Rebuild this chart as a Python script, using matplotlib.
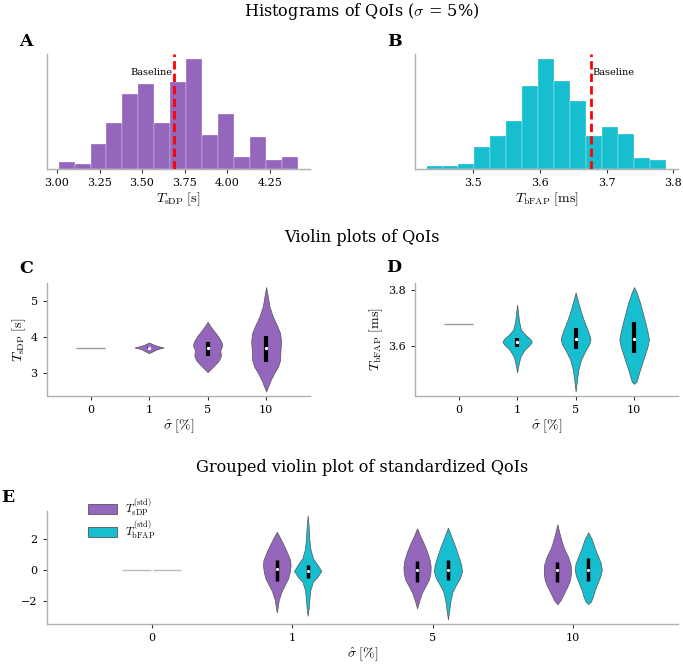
import numpy as np
import matplotlib.pyplot as plt
from matplotlib.patches import Patch

plt.rcParams['font.family'] = 'DejaVu Serif'
plt.rcParams['mathtext.fontset'] = 'cm'
plt.rcParams['font.size'] = 8

PURPLE = '#9467bd'
CYAN = '#17becf'
EDGE = '#555555'

# histogram data (sigma = 5%)
A_edges = [3.010, 3.104, 3.198, 3.291, 3.385, 3.479, 3.573, 3.667, 3.760,
           3.854, 3.948, 4.042, 4.136, 4.229, 4.323, 4.417]
A_counts = [3, 2, 11, 20, 33, 37, 20, 38, 48, 15, 24, 5, 14, 4, 5]
A_baseline = 3.69

B_edges = [3.430, 3.454, 3.477, 3.501, 3.525, 3.549, 3.573, 3.597, 3.621,
           3.645, 3.669, 3.693, 3.717, 3.741, 3.765, 3.789]
B_counts = [1, 1, 2, 10, 15, 22, 38, 50, 40, 31, 15, 19, 16, 5, 4]
B_baseline = 3.677

sigma_labels = ['0', '1', '5', '10']

# violin outlines for sigma = 1, 5, 10 (levels and half widths)
C_y = [
    [3.544, 3.600, 3.656, 3.702, 3.749, 3.795, 3.842],
    [3.015, 3.126, 3.219, 3.340, 3.470, 3.619, 3.758, 3.870, 4.009, 4.149, 4.288, 4.418],
    [2.475, 2.615, 2.801, 2.986, 3.172, 3.358, 3.637, 3.870, 4.102, 4.288, 4.567, 4.846, 5.125, 5.385],
]
C_w = [
    [0.0, 0.068, 0.136, 0.25, 0.136, 0.057, 0.0],
    [0.0, 0.068, 0.125, 0.193, 0.228, 0.216, 0.25, 0.233, 0.182, 0.114, 0.051, 0.0],
    [0.0, 0.034, 0.080, 0.137, 0.205, 0.239, 0.245, 0.256, 0.239, 0.193, 0.114, 0.057, 0.028, 0.0],
]
C_q1 = [3.68, 3.473, 3.293]
C_q3 = [3.72, 3.864, 4.028]
C_med = [3.70, 3.693, 3.693]

D_y = [
    [3.503, 3.536, 3.560, 3.584, 3.603, 3.613, 3.623, 3.639, 3.657, 3.687, 3.718, 3.748],
    [3.433, 3.475, 3.512, 3.548, 3.578, 3.603, 3.621, 3.633, 3.657, 3.693, 3.730, 3.766, 3.793],
    [3.461, 3.469, 3.481, 3.506, 3.536, 3.566, 3.596, 3.623, 3.651, 3.681, 3.718, 3.754, 3.790, 3.812],
]
D_w = [
    [0.0, 0.029, 0.057, 0.126, 0.217, 0.251, 0.228, 0.143, 0.068, 0.034, 0.017, 0.0],
    [0.0, 0.023, 0.046, 0.091, 0.160, 0.228, 0.254, 0.245, 0.205, 0.137, 0.080, 0.034, 0.0],
    [0.0, 0.040, 0.057, 0.091, 0.137, 0.183, 0.228, 0.254, 0.228, 0.194, 0.148, 0.103, 0.046, 0.0],
]
D_q1 = [3.596, 3.588, 3.572]
D_q3 = [3.627, 3.663, 3.687]
D_med = [3.613, 3.624, 3.623]

# standardized QoIs, grouped
E_sdp_y = [
    [-2.750, -2.385, -1.955, -1.417, -0.987, -0.557, -0.127, 0.303, 0.626, 1.163, 1.701, 2.131, 2.432],
    [-2.492, -1.955, -1.525, -1.095, -0.665, -0.234, 0.196, 0.626, 1.163, 1.701, 2.239, 2.669],
    [-2.234, -1.955, -1.525, -1.095, -0.665, -0.234, 0.303, 0.841, 1.379, 1.916, 2.454, 2.927],
]
E_sdp_w = [
    [0.0, 0.007, 0.014, 0.033, 0.057, 0.081, 0.093, 0.0985, 0.095, 0.071, 0.043, 0.019, 0.0],
    [0.0, 0.017, 0.033, 0.057, 0.083, 0.095, 0.097, 0.090, 0.071, 0.047, 0.019, 0.0],
    [0.0, 0.024, 0.047, 0.071, 0.090, 0.097, 0.095, 0.076, 0.047, 0.028, 0.012, 0.0],
]
E_sdp_q1 = [-0.729, -0.772, -0.772]
E_sdp_q3 = [0.626, 0.583, 0.518]
E_sdp_med = [0.02, -0.02, -0.04]

E_bfap_y = [
    [-2.966, -2.492, -1.955, -1.310, -0.772, -0.450, -0.084, 0.303, 0.733, 1.271, 1.916, 2.776, 3.486],
    [-3.202, -2.600, -1.955, -1.417, -0.987, -0.557, -0.127, 0.303, 0.841, 1.486, 2.131, 2.712],
    [-2.213, -2.063, -1.740, -1.310, -0.880, -0.450, -0.019, 0.411, 0.841, 1.379, 1.916, 2.411],
]
E_bfap_w = [
    [0.0, 0.007, 0.012, 0.019, 0.038, 0.071, 0.097, 0.071, 0.038, 0.021, 0.012, 0.007, 0.0],
    [0.0, 0.0095, 0.019, 0.033, 0.057, 0.085, 0.0997, 0.095, 0.076, 0.052, 0.024, 0.0],
    [0.0, 0.019, 0.033, 0.047, 0.066, 0.085, 0.097, 0.090, 0.071, 0.047, 0.028, 0.0],
]
E_bfap_q1 = [-0.514, -0.665, -0.708]
E_bfap_q3 = [0.28, 0.626, 0.776]
E_bfap_med = [-0.084, -0.04, -0.02]


def style(ax, yticks=True):
    for s in ['top', 'right']:
        ax.spines[s].set_visible(False)
    for s in ['left', 'bottom']:
        ax.spines[s].set_color('#b0b0b0')
        ax.spines[s].set_linewidth(1.0)
    ax.tick_params(length=3, width=0.8, color='#333333', labelsize=8)
    if not yticks:
        ax.set_yticks([])


def violin(ax, x, ys, ws, color, q1, q3, med, lw_box=3.0, dot=6):
    ys = np.array(ys)
    ws = np.array(ws)
    ax.fill_betweenx(ys, x - ws, x + ws, facecolor=color, edgecolor=EDGE, lw=0.5, zorder=2)
    ax.vlines(x, q1, q3, color='black', lw=lw_box, zorder=3)
    ax.scatter([x], [med], s=dot, color='white', zorder=4, linewidths=0)


fig = plt.figure(figsize=(6.83, 6.68), dpi=100)

axA = fig.add_axes([0.0684, 0.7475, 0.3855, 0.1717])
axB = fig.add_axes([0.6072, 0.7475, 0.3855, 0.1717])
axC = fig.add_axes([0.0684, 0.4072, 0.3855, 0.1692])
axD = fig.add_axes([0.6072, 0.4072, 0.3855, 0.1692])
axE = fig.add_axes([0.0684, 0.0659, 0.9243, 0.1696])

# A / B histograms
for ax, edges, counts, color, base, xlab, side in [
        (axA, A_edges, A_counts, PURPLE, A_baseline, r'$T_{\mathrm{sDP}}\ [\mathrm{s}]$', 'left'),
        (axB, B_edges, B_counts, CYAN, B_baseline, r'$T_{\mathrm{bFAP}}\ [\mathrm{ms}]$', 'right')]:
    edges = np.array(edges)
    ax.bar(edges[:-1], counts, width=np.diff(edges), align='edge', color=color,
           edgecolor='white', linewidth=0.2)
    ax.axvline(base, color='red', ls='--', lw=2, dashes=(3, 1.5), zorder=3)
    if side == 'left':
        ax.text(base - 0.01, 0.84, 'Baseline', transform=ax.get_xaxis_transform(),
                ha='right', va='center', fontsize=7)
    else:
        ax.text(base + 0.002, 0.84, 'Baseline', transform=ax.get_xaxis_transform(),
                ha='left', va='center', fontsize=7)
    ax.set_xlabel(xlab, fontsize=10, labelpad=2)
    style(ax, yticks=False)

axA.set_xticks([3.0, 3.25, 3.5, 3.75, 4.0, 4.25])
axB.set_xticks([3.5, 3.6, 3.7, 3.8])

# C / D violins
for ax, Y, W, q1, q3, med, color, base, ylab in [
        (axC, C_y, C_w, C_q1, C_q3, C_med, PURPLE, A_baseline, r'$T_{\mathrm{sDP}}\ [\mathrm{s}]$'),
        (axD, D_y, D_w, D_q1, D_q3, D_med, CYAN, B_baseline, r'$T_{\mathrm{bFAP}}\ [\mathrm{ms}]$')]:
    ax.hlines(base, -0.25, 0.25, color='#999999', lw=1)
    for i in range(3):
        violin(ax, i + 1, Y[i], W[i], color, q1[i], q3[i], med[i])
    ax.set_xticks(range(4))
    ax.set_xticklabels(sigma_labels)
    ax.set_xlim(-0.75, 3.75)
    ax.set_xlabel(r'$\hat{\sigma}\ [\%]$', fontsize=10, labelpad=2)
    ax.set_ylabel(ylab, fontsize=10, labelpad=2)
    style(ax)

axC.set_ylim(2.35, 5.5)
axC.set_yticks([3, 4, 5])
axD.set_ylim(3.417, 3.827)
axD.set_yticks([3.6, 3.8])

# E grouped violins
axE.hlines(0, -0.21, -0.01, color='#bbbbbb', lw=1)
axE.hlines(0, 0.01, 0.21, color='#bbbbbb', lw=1)
for i in range(3):
    violin(axE, i + 1 - 0.11, E_sdp_y[i], E_sdp_w[i], PURPLE,
           E_sdp_q1[i], E_sdp_q3[i], E_sdp_med[i], lw_box=2.5, dot=5)
    violin(axE, i + 1 + 0.11, E_bfap_y[i], E_bfap_w[i], CYAN,
           E_bfap_q1[i], E_bfap_q3[i], E_bfap_med[i], lw_box=2.5, dot=5)
axE.set_xticks(range(4))
axE.set_xticklabels(sigma_labels)
axE.set_xlim(-0.75, 3.75)
axE.set_ylim(-3.5, 3.8)
axE.set_yticks([-2, 0, 2])
axE.set_xlabel(r'$\hat{\sigma}\ [\%]$', fontsize=10, labelpad=2)
style(axE)
handles = [Patch(facecolor=PURPLE, edgecolor=EDGE, lw=0.6),
           Patch(facecolor=CYAN, edgecolor=EDGE, lw=0.6)]
axE.legend(handles, [r'$T_{\mathrm{sDP}}^{(\mathrm{std})}$', r'$T_{\mathrm{bFAP}}^{(\mathrm{std})}$'],
           loc='upper left', bbox_to_anchor=(0.048, 1.21), frameon=False, fontsize=8.5,
           handlelength=2.5, handleheight=0.9, labelspacing=0.05, handletextpad=0.7)

# titles and panel letters
fig.text(0.530, 1 - 12 / 668, r'Histograms of QoIs ($\sigma$ = 5%)', ha='center', va='center', fontsize=11.6)
fig.text(0.530, 1 - 238 / 668, 'Violin plots of QoIs', ha='center', va='center', fontsize=11.6)
fig.text(0.530, 1 - 467 / 668, 'Grouped violin plot of standardized QoIs', ha='center', va='center', fontsize=11.6)
for lab, x, y in [('A', 26, 42), ('B', 394, 42), ('C', 26, 269), ('D', 394, 268), ('E', 8, 497)]:
    fig.text(x / 683, 1 - y / 668, lab, ha='center', va='center', fontsize=12.5, fontweight='bold')

fig.savefig('out.png', dpi=100)
